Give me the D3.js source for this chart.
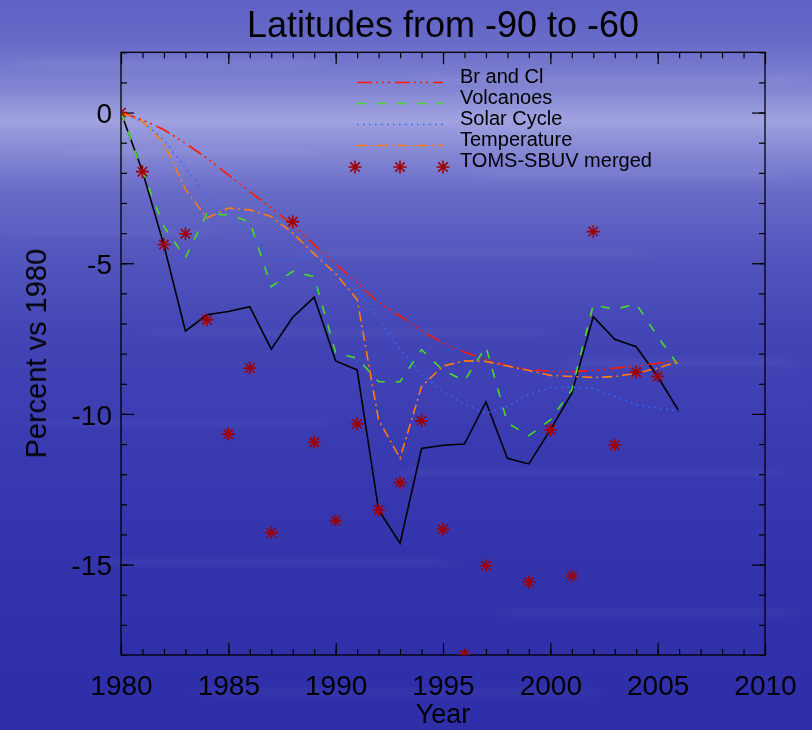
<!DOCTYPE html>
<html>
<head>
<meta charset="utf-8">
<script src="https://cdn.jsdelivr.net/npm/d3@7/dist/d3.min.js"></script>
<style>
  html, body { margin: 0; padding: 0; background: #3a3cb4; }
  svg { display: block; }
  text { font-family: "Liberation Sans", Arial, sans-serif; fill: #000; }
</style>
</head>
<body>
<svg id="chart" width="812" height="730"></svg>
<script>
// ---------------- DATA ----------------
const years = [1980,1981,1982,1983,1984,1985,1986,1987,1988,1989,1990,1991,1992,1993,
               1994,1995,1996,1997,1998,1999,2000,2001,2002,2003,2004,2005,2006];
const brAndCl = [0,-0.24,-0.57,-1.02,-1.51,-2.07,-2.62,-3.17,-3.73,-4.39,-5.03,-5.66,-6.3,-6.75,
                 -7.25,-7.65,-7.95,-8.2,-8.4,-8.54,-8.58,-8.6,-8.56,-8.48,-8.41,-8.32,-8.23];
const volcanoes = [0,-1.96,-3.78,-4.82,-3.35,-3.4,-3.62,-5.78,-5.27,-5.45,-7.97,-8.15,-8.93,-8.93,
                   -7.87,-8.55,-8.9,-7.77,-10.3,-10.72,-10.2,-9.2,-6.38,-6.53,-6.35,-7.43,-8.43];
const solarCycle = [0,-0.3,-0.9,-1.85,-2.73,-3.45,-4.06,-4.87,-4.91,-4.67,-5.3,-5.9,-6.85,-7.85,
                    -8.7,-9.27,-9.68,-9.98,-9.74,-9.35,-9.13,-9.11,-9.15,-9.42,-9.7,-9.81,-9.89];
const temperature = [0,-0.3,-1.02,-2.54,-3.5,-3.17,-3.23,-3.45,-4.0,-4.69,-5.35,-6.2,-10.2,-11.47,
                     -9.09,-8.41,-8.24,-8.26,-8.41,-8.56,-8.72,-8.76,-8.79,-8.76,-8.65,-8.48,-8.26];
const allFactors = [0,-1.95,-4.4,-7.25,-6.71,-6.6,-6.44,-7.85,-6.79,-6.13,-8.24,-8.54,-13.19,-14.29,
                    -11.15,-11.04,-11.0,-9.6,-11.47,-11.66,-10.53,-9.31,-6.77,-7.52,-7.77,-8.76,-9.92];
const tomsSbuv = [0,-1.96,-4.38,-4.02,-6.88,-10.67,-8.48,-13.94,-3.62,-10.94,-13.54,-10.33,-13.19,-12.28,
                  -10.23,-13.83,-18.0,-15.04,null,-15.58,-10.53,-15.38,-3.95,-11.03,-8.62,-8.76,null];

const xMajorTicks = [1980,1985,1990,1995,2000,2005,2010];
const yMajorTicks = [-15,-10,-5,0];
const titleText = "Latitudes from -90 to -60";
const xLabel = "Year";
const yLabel = "Percent vs 1980";
const legendNames = ["Br and Cl","Volcanoes","Solar Cycle","Temperature","TOMS-SBUV merged"];

// ---------------- LAYOUT ----------------
const W = 812, H = 730;
const L = 121, R = 765, T = 52.3, B = 655;
const svg = d3.select("#chart");

// background
const defs = svg.append("defs");
const grad = defs.append("linearGradient").attr("id","bg").attr("x1",0).attr("y1",0).attr("x2",0).attr("y2",1);
[[0,"#5e60c4"],[0.06,"#6a6cc9"],[0.12,"#8284d2"],[0.165,"#a0a2e0"],[0.2,"#8a8cd6"],[0.26,"#6a6cc8"],
 [0.34,"#5557be"],[0.45,"#4446b6"],[0.6,"#3a3bb1"],[0.8,"#3233ab"],[1,"#2e2fa8"]]
  .forEach(([o,c]) => grad.append("stop").attr("offset",o).attr("stop-color",c));
svg.append("rect").attr("width",W).attr("height",H).attr("fill","url(#bg)");

// subtle soft water streaks
defs.append("filter").attr("id","soft").attr("x","-20%").attr("y","-200%").attr("width","140%").attr("height","500%")
  .append("feGaussianBlur").attr("stdDeviation","12 3");
const streaks = [[20,60,300,6],[420,75,380,5],[60,150,260,4],[480,170,300,5],[10,230,200,4],[300,250,350,4],
                 [150,330,400,3],[560,360,240,4],[30,420,300,3],[400,470,380,3],[100,560,350,3],[500,610,300,3],[200,690,400,3]];
svg.append("g").attr("filter","url(#soft)").selectAll("rect").data(streaks).join("rect")
  .attr("x",d=>d[0]).attr("y",d=>d[1]).attr("width",d=>d[2]).attr("height",d=>d[3]+2)
  .attr("fill","#ffffff").attr("opacity",0.06);

defs.append("clipPath").attr("id","plotclip").append("rect")
  .attr("x",L).attr("y",T).attr("width",R-L).attr("height",B-T);

const x = d3.scaleLinear().domain([1980,2010]).range([L,R]);
const y = d3.scaleLinear().domain([-18,2]).range([B,T]);

// ---------------- AXES ----------------
const minorX = d3.range(1980,2011,1);
const minorY = d3.range(-18,3,1);
function styleAxis(g){
  g.select(".domain").remove();
  g.selectAll(".tick line").attr("stroke","#000").attr("stroke-width",1.2);
}
const fmtPlain = d => String(d);
svg.append("g").attr("transform",`translate(0,${B})`)
  .call(d3.axisBottom(x).tickValues(minorX).tickSize(-6).tickFormat("")).call(styleAxis);
svg.append("g").attr("transform",`translate(0,${B})`)
  .call(d3.axisBottom(x).tickValues(xMajorTicks).tickSize(-12).tickPadding(34).tickFormat(fmtPlain))
  .call(styleAxis)
  .call(g=>g.selectAll("text").attr("font-size",28).attr("fill","#000").attr("dy","0.2em"));
svg.append("g").attr("transform",`translate(0,${T})`)
  .call(d3.axisTop(x).tickValues(minorX).tickSize(-6).tickFormat("")).call(styleAxis);
svg.append("g").attr("transform",`translate(0,${T})`)
  .call(d3.axisTop(x).tickValues(xMajorTicks).tickSize(-12).tickFormat("")).call(styleAxis);

svg.append("g").attr("transform",`translate(${L},0)`)
  .call(d3.axisLeft(y).tickValues(minorY).tickSize(-6).tickFormat("")).call(styleAxis);
svg.append("g").attr("transform",`translate(${L},0)`)
  .call(d3.axisLeft(y).tickValues(yMajorTicks).tickSize(-13).tickPadding(9).tickFormat(fmtPlain))
  .call(styleAxis)
  .call(g=>g.selectAll("text").attr("font-size",28).attr("fill","#000").attr("dy","0.36em"));
svg.append("g").attr("transform",`translate(${R},0)`)
  .call(d3.axisRight(y).tickValues(minorY).tickSize(-6).tickFormat("")).call(styleAxis);
svg.append("g").attr("transform",`translate(${R},0)`)
  .call(d3.axisRight(y).tickValues(yMajorTicks).tickSize(-13).tickFormat("")).call(styleAxis);

svg.append("rect").attr("x",L).attr("y",T).attr("width",R-L).attr("height",B-T)
  .attr("fill","none").attr("stroke","#000").attr("stroke-width",1.3);

// ---------------- TITLES ----------------
svg.append("text").attr("x",443).attr("y",37).attr("text-anchor","middle")
  .attr("font-size",36).text(titleText);
svg.append("text").attr("x",443).attr("y",723).attr("text-anchor","middle")
  .attr("font-size",27).text(xLabel);
svg.append("text").attr("transform",`translate(46,${(T+B)/2}) rotate(-90)`)
  .attr("text-anchor","middle").attr("font-size",29).text(yLabel);

// ---------------- SERIES ----------------
const series = [
  {name:legendNames[0], values:brAndCl,    color:"#ff1a00", dash:"15,4,2,4,2,4,2,5"},
  {name:legendNames[1], values:volcanoes,  color:"#44dd22", dash:"9,11"},
  {name:legendNames[2], values:solarCycle, color:"#2a6cff", dash:"1.6,4.4"},
  {name:legendNames[3], values:temperature,color:"#ff7a10", dash:"10,4,2,4"}
];
const line = d3.line().defined(d=>d[1]!==null).x(d=>x(d[0])).y(d=>y(d[1]));
const plot = svg.append("g").attr("clip-path","url(#plotclip)");

plot.append("path").datum(years.map((yr,i)=>[yr,allFactors[i]]))
  .attr("d",line).attr("fill","none").attr("stroke","#000").attr("stroke-width",1.6);

series.forEach(s=>{
  plot.append("path").datum(years.map((yr,i)=>[yr,s.values[i]]))
    .attr("d",line).attr("fill","none").attr("stroke",s.color)
    .attr("stroke-width",1.6).attr("stroke-dasharray",s.dash);
});

const starColor = "#a00000";
function starPath(cx,cy,r){
  const d = r*0.72;
  return `M${cx-r},${cy}L${cx+r},${cy}M${cx},${cy-r}L${cx},${cy+r}`+
         `M${cx-d},${cy-d}L${cx+d},${cy+d}M${cx-d},${cy+d}L${cx+d},${cy-d}`;
}
plot.append("g").selectAll("path")
  .data(years.map((yr,i)=>[yr,tomsSbuv[i]]).filter(d=>d[1]!==null))
  .join("path")
  .attr("d",d=>starPath(x(d[0]),y(d[1]),6.5))
  .attr("stroke",starColor).attr("stroke-width",1.6).attr("fill","none");

// ---------------- LEGEND ----------------
const lg = svg.append("g");
const lx0 = 357, lx1 = 443, ltx = 460, ly0 = 83, ldy = 21;
series.forEach((s,i)=>{
  const yy = ly0 + i*ldy;
  lg.append("line").attr("x1",lx0).attr("x2",lx1).attr("y1",yy-0.5).attr("y2",yy-0.5)
    .attr("stroke",s.color).attr("stroke-width",1.6).attr("stroke-dasharray",s.dash);
  lg.append("text").attr("x",ltx).attr("y",yy).attr("font-size",20).text(s.name);
});
const sy = ly0 + 4*ldy;
[355,400,443].forEach(sx=>{
  lg.append("path").attr("d",starPath(sx,sy,6.5)).attr("stroke",starColor)
    .attr("stroke-width",1.6).attr("fill","none");
});
lg.append("text").attr("x",ltx).attr("y",sy).attr("font-size",20).text(legendNames[4]);
</script>
</body>
</html>
